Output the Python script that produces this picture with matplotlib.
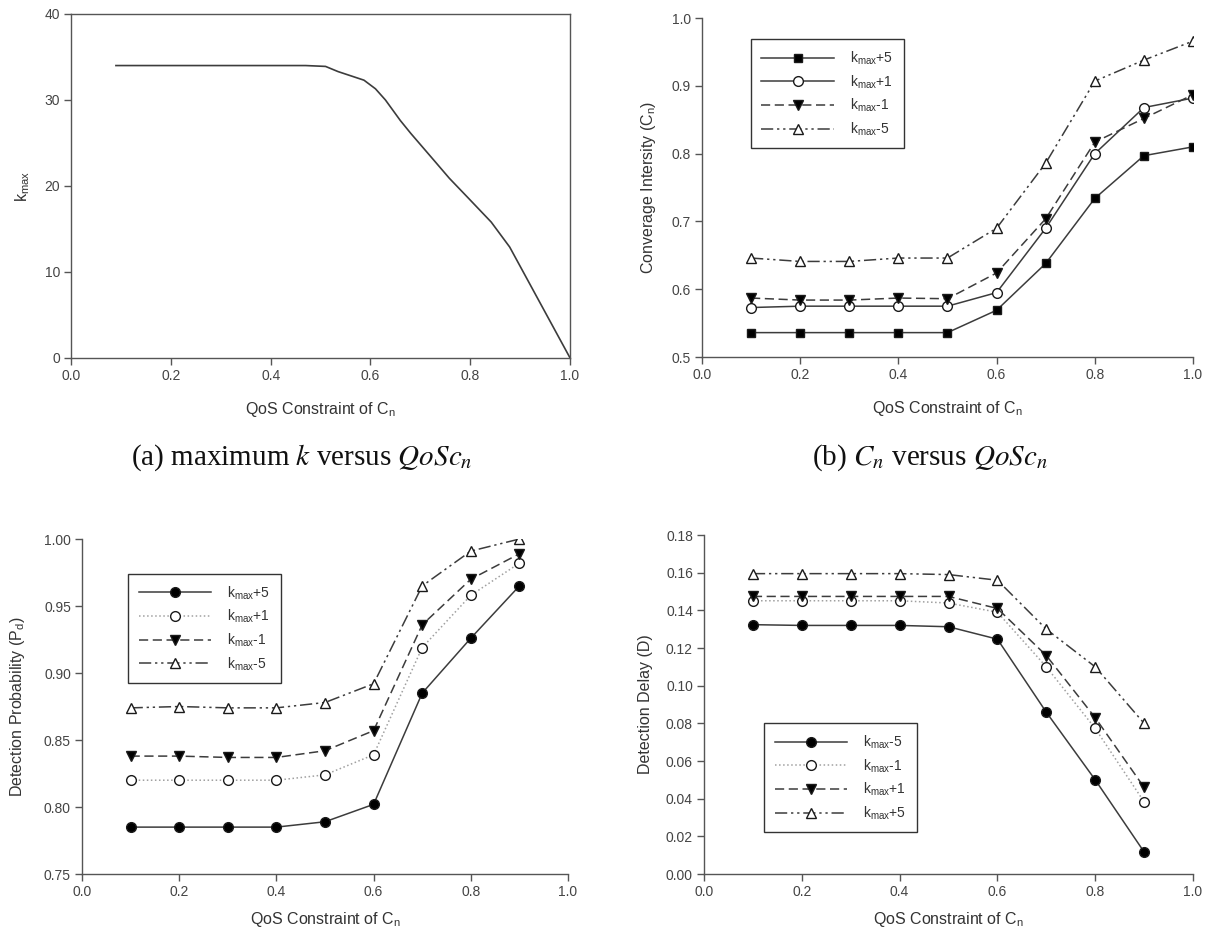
import matplotlib
matplotlib.use('Agg')
import matplotlib.pyplot as plt

plt.rcParams['font.family'] = ['Liberation Sans', 'DejaVu Sans']
plt.rcParams['mathtext.fontset'] = 'custom'
plt.rcParams['mathtext.rm'] = 'Liberation Sans'
plt.rcParams['mathtext.it'] = 'Liberation Sans:italic'

# (a) maximum k against the QoS constraint
qos_a = [0.09, 0.47, 0.51, 0.535, 0.587, 0.61, 0.63, 0.66, 0.681, 0.727, 0.758, 0.796, 0.842, 0.879, 1.0]
kmax = [34.0, 34.0, 33.9, 33.3, 32.3, 31.3, 30.0, 27.6, 26.1, 23.0, 20.9, 18.6, 15.8, 12.9, 0.0]

# (b) coverage intensity
qos_b = [0.1, 0.2, 0.3, 0.4, 0.5, 0.6, 0.7, 0.8, 0.9, 1.0]
cn_p5 = [0.536, 0.536, 0.536, 0.536, 0.536, 0.569, 0.638, 0.734, 0.797, 0.810]
cn_p1 = [0.573, 0.575, 0.575, 0.575, 0.575, 0.595, 0.690, 0.800, 0.868, 0.882]
cn_m1 = [0.587, 0.584, 0.584, 0.587, 0.586, 0.624, 0.704, 0.817, 0.852, 0.887]
cn_m5 = [0.646, 0.641, 0.641, 0.646, 0.646, 0.690, 0.786, 0.907, 0.938, 0.966]

# (c) detection probability
qos_c = [0.1, 0.2, 0.3, 0.4, 0.5, 0.6, 0.7, 0.8, 0.9]
pd_p5 = [0.785, 0.785, 0.785, 0.785, 0.789, 0.802, 0.885, 0.926, 0.965]
pd_p1 = [0.820, 0.820, 0.820, 0.820, 0.824, 0.839, 0.919, 0.958, 0.982]
pd_m1 = [0.838, 0.838, 0.837, 0.837, 0.842, 0.857, 0.936, 0.970, 0.989]
pd_m5 = [0.874, 0.875, 0.874, 0.874, 0.878, 0.892, 0.965, 0.991, 1.000]

# (d) detection delay
qos_d = [0.1, 0.2, 0.3, 0.4, 0.5, 0.6, 0.7, 0.8, 0.9]
dd_m5 = [0.1324, 0.132, 0.132, 0.132, 0.1313, 0.1247, 0.0859, 0.050, 0.0117]
dd_m1 = [0.1451, 0.1451, 0.1451, 0.1451, 0.1439, 0.139, 0.110, 0.0773, 0.0383]
dd_p1 = [0.1474, 0.1474, 0.1474, 0.1474, 0.1474, 0.141, 0.116, 0.083, 0.046]
dd_p5 = [0.1595, 0.1595, 0.1595, 0.1595, 0.159, 0.156, 0.130, 0.110, 0.080]

line_c = '#3c3c3c'
dot_c = '#a0a0a0'
dashed = (0, (6, 3))
dashdotdot = (0, (8, 2.5, 1.5, 2.5, 1.5, 2.5))
txt_c = '#333333'

fig = plt.figure(figsize=(12.08, 9.30), dpi=100)


def style_axes(ax, box=False, xpad=12):
    for s in ['left', 'bottom', 'top', 'right']:
        ax.spines[s].set_color('#555555')
        ax.spines[s].set_linewidth(1.0)
    if not box:
        ax.spines['top'].set_visible(False)
        ax.spines['right'].set_visible(False)
    ax.tick_params(direction='out', length=5, width=1, colors='#555555', pad=3,
                   labelcolor='#444444', labelsize=10, top=False, right=False)
    ax.set_xlim(0, 1.0)
    ax.set_xticks([0.0, 0.2, 0.4, 0.6, 0.8, 1.0])
    ax.set_xticklabels(['0.0', '0.2', '0.4', '0.6', '0.8', '1.0'])
    ax.set_xlabel(r'QoS Constraint of C$_{\mathregular{n}}$', fontsize=11.5,
                  color=txt_c, labelpad=xpad)


def legend(ax, loc):
    lg = ax.legend(loc='upper left', bbox_to_anchor=loc, borderaxespad=0, fontsize=10,
                   frameon=True, fancybox=False, edgecolor='#333333', framealpha=1,
                   handlelength=5.2, handletextpad=1.2, borderpad=0.75, labelspacing=0.45)
    lg.get_frame().set_linewidth(1.0)
    for t in lg.get_texts():
        t.set_color(txt_c)


def curve(ax, x, y, style, marker, filled, label):
    color = dot_c if style == ':' else line_c
    size = 6 if marker == 's' else 7
    ax.plot(x, y, color=color, lw=1.1, ls=style, marker=marker, ms=size,
            mfc='black' if filled else 'white', mec='#1a1a1a', mew=1.0, label=label)


# (a)
ax1 = fig.add_axes([0.0588, 0.6151, 0.4131, 0.3699])
ax1.plot(qos_a, kmax, color=line_c, lw=1.2)
style_axes(ax1, box=True)
ax1.set_ylim(0, 40)
ax1.set_yticks([0, 10, 20, 30, 40])
ax1.set_ylabel(r'k$_{\mathregular{max}}$', fontsize=11.5, color=txt_c, labelpad=9)

# (b)
ax2 = fig.add_axes([0.5811, 0.6161, 0.4065, 0.3645])
curve(ax2, qos_b, cn_p5, '-', 's', True, r'k$_{\mathregular{max}}$+5')
curve(ax2, qos_b, cn_p1, '-', 'o', False, r'k$_{\mathregular{max}}$+1')
curve(ax2, qos_b, cn_m1, dashed, 'v', True, r'k$_{\mathregular{max}}$-1')
curve(ax2, qos_b, cn_m5, dashdotdot, '^', False, r'k$_{\mathregular{max}}$-5')
style_axes(ax2)
ax2.set_ylim(0.5, 1.0)
ax2.set_yticks([0.5, 0.6, 0.7, 0.8, 0.9, 1.0])
ax2.set_ylabel(r'Converage Intersity (C$_{\mathregular{n}}$)', fontsize=11.5, color=txt_c, labelpad=10)
legend(ax2, (0.10, 0.938))

# (c)
ax3 = fig.add_axes([0.0679, 0.0602, 0.4023, 0.3602])
curve(ax3, qos_c, pd_p5, '-', 'o', True, r'k$_{\mathregular{max}}$+5')
curve(ax3, qos_c, pd_p1, ':', 'o', False, r'k$_{\mathregular{max}}$+1')
curve(ax3, qos_c, pd_m1, dashed, 'v', True, r'k$_{\mathregular{max}}$-1')
curve(ax3, qos_c, pd_m5, dashdotdot, '^', False, r'k$_{\mathregular{max}}$-5')
style_axes(ax3, xpad=8)
ax3.set_ylim(0.75, 1.0)
ax3.set_yticks([0.75, 0.80, 0.85, 0.90, 0.95, 1.00])
ax3.set_yticklabels(['0.75', '0.80', '0.85', '0.90', '0.95', '1.00'])
ax3.set_ylabel(r'Detection Probability (P$_{\mathregular{d}}$)', fontsize=11.5, color=txt_c, labelpad=12)
legend(ax3, (0.095, 0.896))

# (d)
ax4 = fig.add_axes([0.5828, 0.0602, 0.4048, 0.3645])
curve(ax4, qos_d, dd_m5, '-', 'o', True, r'k$_{\mathregular{max}}$-5')
curve(ax4, qos_d, dd_m1, ':', 'o', False, r'k$_{\mathregular{max}}$-1')
curve(ax4, qos_d, dd_p1, dashed, 'v', True, r'k$_{\mathregular{max}}$+1')
curve(ax4, qos_d, dd_p5, dashdotdot, '^', False, r'k$_{\mathregular{max}}$+5')
style_axes(ax4, xpad=8)
ax4.set_ylim(0, 0.18)
ax4.set_yticks([0.0, 0.02, 0.04, 0.06, 0.08, 0.10, 0.12, 0.14, 0.16, 0.18])
ax4.set_yticklabels(['0.00', '0.02', '0.04', '0.06', '0.08', '0.10', '0.12', '0.14', '0.16', '0.18'])
ax4.set_ylabel('Detection Delay (D)', fontsize=11.5, color=txt_c, labelpad=9)
legend(ax4, (0.123, 0.445))

# sub-figure captions
fig.text(0.25, 0.5, r'(a) maximum $k$ versus $QoSc_n$', ha='center', va='baseline', fontsize=21,
         fontfamily='Liberation Serif', math_fontfamily='stix', color='#111111')
fig.text(0.77, 0.5, r'(b) $C_n$ versus $QoSc_n$', ha='center', va='baseline', fontsize=21,
         fontfamily='Liberation Serif', math_fontfamily='stix', color='#111111')

fig.savefig('out.png', dpi=100, facecolor='white')
